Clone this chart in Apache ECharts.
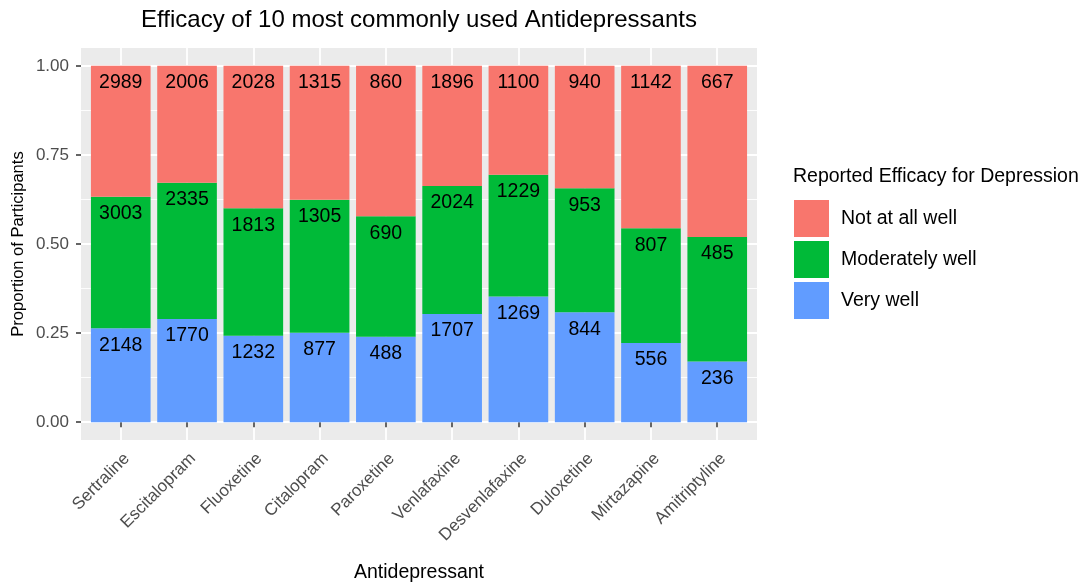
<!DOCTYPE html>
<html><head><meta charset="utf-8">
<script src="https://cdn.jsdelivr.net/npm/echarts@6/dist/echarts.min.js"></script>
<style>html,body{margin:0;padding:0;background:#fff}#c{width:1085px;height:588px}</style>
</head><body><div id="c"></div>
<script>
const drugs = ['Sertraline','Escitalopram','Fluoxetine','Citalopram','Paroxetine','Venlafaxine','Desvenlafaxine','Duloxetine','Mirtazapine','Amitriptyline'];
const notAtAll = [2989,2006,2028,1315,860,1896,1100,940,1142,667];
const moderately = [3003,2335,1813,1305,690,2024,1229,953,807,485];
const veryWell = [2148,1770,1232,877,488,1707,1269,844,556,236];
const yTicks = [0, 0.25, 0.5, 0.75, 1];

const totals = drugs.map((d,i)=>notAtAll[i]+moderately[i]+veryWell[i]);
const prop = arr => arr.map((v,i)=>v/totals[i]);

const FONT = 'Liberation Sans, Arial, sans-serif';
const PL = 81, PT = 48, PW = 676, PH = 392;
const unit = PW / 10.2;
const y0 = 422, y1 = 66;

function mkSeries(name, counts, color){
  return {
    name, type:'bar', stack:'s', xAxisIndex:3, yAxisIndex:3,
    barCategoryGap:'10%', data: prop(counts),
    itemStyle:{color},
    label:{show:true, position:'insideTop', distance:7, color:'#000', fontSize:19.5, fontFamily:FONT,
      formatter: p => String(counts[p.dataIndex])},
    emphasis:{disabled:true}, silent:true
  };
}

const chart = echarts.init(document.getElementById('c'));
chart.setOption({
  animation:false,
  textStyle:{fontFamily:FONT},
  grid:[
    {left:PL, top:PT, width:PW, height:PH, show:true, backgroundColor:'#EBEBEB', borderWidth:0},
    {left:PL, top:y1, width:PW, height:y0-y1},
    {left:PL+0.6*unit, top:PT, width:9*unit, height:PH},
    {left:PL+0.1*unit, top:PT, width:10*unit, height:PH}
  ],
  xAxis:[
    {gridIndex:0, type:'value', show:false},
    {gridIndex:1, type:'value', show:false},
    {gridIndex:2, type:'value', min:1, max:10, interval:1, axisLine:{show:false}, axisTick:{show:false}, axisLabel:{show:false},
      splitLine:{show:true, lineStyle:{color:'#fff', width:1.8}}},
    {gridIndex:3, type:'category', data:drugs, axisLine:{show:false},
      axisTick:{show:true, alignWithLabel:true, length:5, lineStyle:{color:'#333', width:1.5}},
      axisLabel:{rotate:45, margin:10, align:'right', verticalAlign:'top', color:'#4D4D4D', fontSize:17, fontFamily:FONT, interval:0},
      splitLine:{show:false}}
  ],
  yAxis:[
    {gridIndex:0, type:'value', show:false},
    {gridIndex:1, type:'value', min:0, max:1, interval:0.25, axisLine:{show:false},
      axisTick:{show:true, length:5, lineStyle:{color:'#333', width:1.5}},
      axisLabel:{margin:12, color:'#4D4D4D', fontSize:17, fontFamily:FONT, formatter:v=>v.toFixed(2)},
      splitLine:{show:true, lineStyle:{color:'#fff', width:1.8}},
      minorTick:{show:false, splitNumber:2},
      minorSplitLine:{show:true, lineStyle:{color:'#fff', width:0.9}}},
    {gridIndex:2, type:'value', show:false},
    {gridIndex:3, type:'value', min:-0.05, max:1.05, show:false}
  ],
  legend:{
    orient:'vertical', left:794, top:200, padding:0, itemWidth:35, itemHeight:37, itemGap:4, icon:'rect',
    data:['Not at all well','Moderately well','Very well'],
    textStyle:{fontSize:19.5, color:'#000', fontFamily:FONT, padding:[0,0,0,7]},
    selectedMode:false
  },
  series:[
    mkSeries('Very well', veryWell, '#619CFF'),
    mkSeries('Moderately well', moderately, '#00BA38'),
    mkSeries('Not at all well', notAtAll, '#F8766D')
  ],
  graphic:[
    {type:'text', x:PL+PW/2, y:20, style:{text:'Efficacy of 10 most commonly used Antidepressants', font:'24px '+FONT, fill:'#000', textAlign:'center', textVerticalAlign:'middle'}},
    {type:'text', x:PL+PW/2, y:573, style:{text:'Antidepressant', font:'19.5px '+FONT, fill:'#000', textAlign:'center', textVerticalAlign:'middle'}},
    {type:'text', x:18, y:PT+PH/2, rotation:Math.PI/2, style:{text:'Proportion of Participants', font:'16.5px '+FONT, fill:'#000', textAlign:'center', textVerticalAlign:'middle'}},
    {type:'text', x:793, y:177, style:{text:'Reported Efficacy for Depression', font:'19.5px '+FONT, fill:'#000', textAlign:'left', textVerticalAlign:'middle'}}
  ]
});
</script></body></html>
